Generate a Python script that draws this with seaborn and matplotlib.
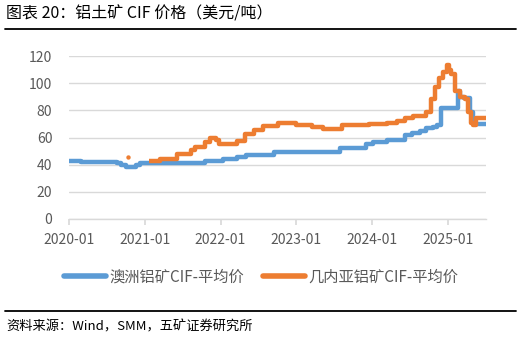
import pandas as pd
import matplotlib
matplotlib.use("Agg")
import matplotlib.pyplot as plt
import matplotlib.dates as mdates
from matplotlib.lines import Line2D
import seaborn as sns

# 澳洲铝矿CIF-平均价（价格变动点，美元/吨）
aus_dates = ["2020-01-01", "2020-03-01", "2020-08-20", "2020-09-10", "2020-10-01",
             "2020-11-20", "2020-12-10", "2021-10-20", "2022-01-15", "2022-03-20",
             "2022-05-05", "2022-09-15", "2023-08-01", "2023-12-05", "2024-01-05",
             "2024-03-15", "2024-06-10", "2024-07-15", "2024-08-20", "2024-09-20",
             "2024-10-20", "2024-11-10", "2024-12-01", "2025-02-20", "2025-03-01",
             "2025-03-20", "2025-04-20", "2025-05-01", "2025-07-05"]
aus_values = [43, 42, 41, 39.5, 38.5,
              39.5, 41, 43, 44.5, 46,
              47, 49, 52, 55.5, 56.5,
              58.5, 61.5, 63, 64.5, 67,
              68, 69.5, 81.5, 94, 90,
              89, 79, 70, 70]

# 几内亚铝矿CIF-平均价
gui_dates = ["2021-01-20", "2021-03-15", "2021-06-05", "2021-08-10", "2021-09-01",
             "2021-10-20", "2021-11-10", "2021-12-10", "2021-12-25", "2022-03-20",
             "2022-05-01", "2022-06-10", "2022-07-25", "2022-10-05", "2023-01-01",
             "2023-03-20", "2023-05-10", "2023-08-10", "2023-12-20", "2024-03-15",
             "2024-05-01", "2024-06-10", "2024-07-20", "2024-09-01", "2024-09-20",
             "2024-10-15", "2024-11-01", "2024-11-20", "2024-12-10", "2024-12-28",
             "2025-01-08", "2025-01-15", "2025-02-05", "2025-03-01", "2025-03-25",
             "2025-04-10", "2025-04-25", "2025-05-05", "2025-05-20", "2025-07-05"]
gui_values = [43, 44.5, 48, 50.5, 53,
              56.5, 59.5, 58, 55.5, 57.5,
              62.5, 65.5, 68.5, 71, 69,
              68, 66.5, 69, 70, 71,
              72.5, 74.5, 75.5, 76, 79,
              88, 97.5, 104, 108, 113.5,
              110, 107, 94, 90, 88,
              79, 71, 69.5, 74.5, 74]

# 几内亚的一个孤立数据点
gui_dot_dates = ["2020-10-10"]
gui_dot_values = [45.5]

year_ticks = ["2020-01-01", "2021-01-01", "2022-01-01", "2023-01-01", "2024-01-01", "2025-01-01"]
y_ticks = [0, 20, 40, 60, 80, 100, 120]

labels = ["澳洲铝矿CIF-平均价", "几内亚铝矿CIF-平均价"]
colors = ["#5B9BD5", "#ED7D31"]
gray = "#595959"

sns.set_theme(style="white")
plt.rcParams['font.family'] = ['Noto Sans CJK SC', 'DejaVu Sans']

df_aus = pd.DataFrame({"date": pd.to_datetime(aus_dates), "price": aus_values})
df_gui = pd.DataFrame({"date": pd.to_datetime(gui_dates), "price": gui_values})
df_dot = pd.DataFrame({"date": pd.to_datetime(gui_dot_dates), "price": gui_dot_values})

fig = plt.figure(figsize=(5.22, 3.39), dpi=100)
ax = fig.add_axes([69 / 522, 1 - 219 / 339, (486 - 69) / 522, (219 - 56) / 339])

sns.lineplot(data=df_aus, x="date", y="price", ax=ax, color=colors[0],
             lw=3.2, drawstyle="steps-post", solid_capstyle="butt")
sns.lineplot(data=df_gui, x="date", y="price", ax=ax, color=colors[1],
             lw=3.2, drawstyle="steps-post", solid_capstyle="butt")
sns.scatterplot(data=df_dot, x="date", y="price", ax=ax, color=colors[1],
                s=10, linewidth=0)

ax.set_xlim(pd.Timestamp("2020-01-01"), pd.Timestamp("2025-07-05"))
ax.set_ylim(0, 120)
ax.set_yticks(y_ticks)
ax.set_xticks(pd.to_datetime(year_ticks))
ax.xaxis.set_major_formatter(mdates.DateFormatter("%Y-%m"))
ax.yaxis.grid(True, color="#D9D9D9", lw=1)
ax.xaxis.grid(False)
ax.set_axisbelow(True)
for s in ["left", "right", "top"]:
    ax.spines[s].set_visible(False)
ax.spines["bottom"].set_color("#D9D9D9")
ax.spines["bottom"].set_linewidth(1)
ax.tick_params(axis="x", which="major", bottom=True, length=4, color="#D9D9D9",
               labelsize=10, labelcolor=gray, pad=6)
ax.tick_params(axis="y", left=False, labelsize=10, labelcolor=gray, pad=6)
ax.set_xlabel("")
ax.set_ylabel("")

handles = [Line2D([], [], color=c, lw=4, solid_capstyle="round") for c in colors]
fig.legend(handles, labels, loc="center", bbox_to_anchor=(0.5, 1 - 277 / 339),
           ncol=2, frameon=False, fontsize=11, labelcolor=gray,
           handlelength=2.8, handletextpad=0.2, columnspacing=1.2)

fig.text(6 / 522, 1 - 14 / 339, "图表 20：铝土矿 CIF 价格（美元/吨）", fontsize=11.5,
         color="black", va="center", ha="left")
fig.add_artist(Line2D([5 / 522, 516 / 522], [1 - 28.5 / 339] * 2,
                      transform=fig.transFigure, color="black", lw=1.3))
fig.add_artist(Line2D([5 / 522, 516 / 522], [1 - 311 / 339] * 2,
                      transform=fig.transFigure, color="black", lw=1.3))
fig.text(6 / 522, 1 - 327 / 339, "资料来源：Wind，SMM，五矿证券研究所", fontsize=9.5,
         color="black", va="center", ha="left")

fig.savefig("out.png", dpi=100)
